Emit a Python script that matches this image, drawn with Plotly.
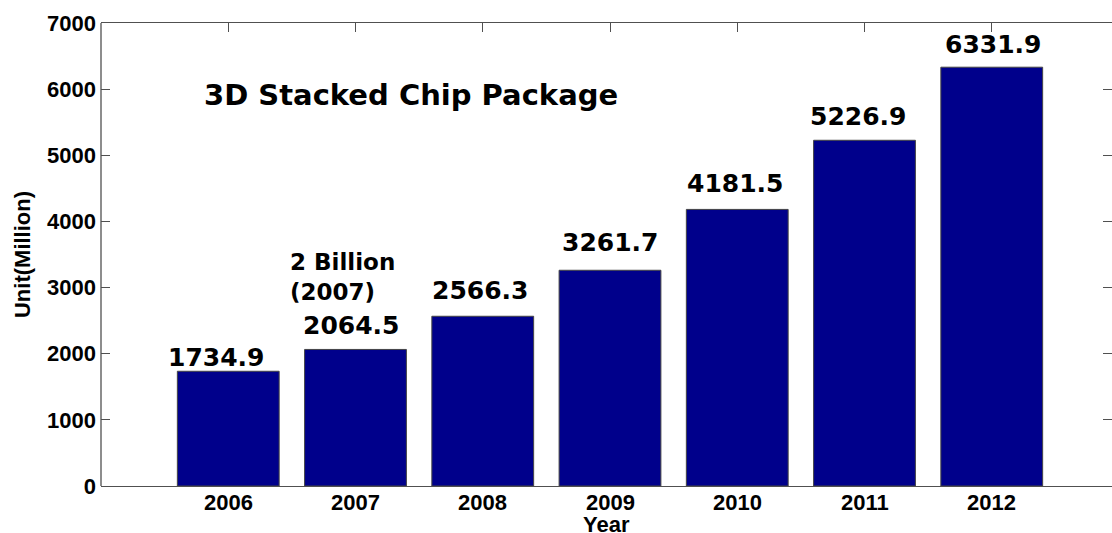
import plotly.graph_objects as go

# Yearly shipments of 3D stacked chip packages (million units)
years = [2006, 2007, 2008, 2009, 2010, 2011, 2012]
units = [1734.9, 2064.5, 2566.3, 3261.7, 4181.5, 5226.9, 6331.9]
value_labels = ["1734.9", "2064.5", "2566.3", "3261.7", "4181.5", "5226.9", "6331.9"]
year_labels = ["2006", "2007", "2008", "2009", "2010", "2011", "2012"]
y_ticks = [0, 1000, 2000, 3000, 4000, 5000, 6000, 7000]

# fine placement of the value labels above each bar (dx, dy in px)
label_nudge = [(-12, 4), (-5, 14), (-3, 16), (0, 18), (-2, 16), (-7, 14), (1, 13)]

AXIS = "#505050"
BAR = "#00008B"
BOLD_TXT = dict(family="DejaVu Sans", color="black", weight="bold")
AXIS_TXT = dict(family="Liberation Sans", color="black", weight="bold")

fig = go.Figure()
fig.add_trace(go.Bar(
    x=years, y=units, width=0.8,
    marker=dict(color=BAR, line=dict(color="#444444", width=1)),
    hoverinfo="x+y",
))

for yr, val, txt, (dx, dy) in zip(years, units, value_labels, label_nudge):
    fig.add_annotation(
        x=yr, y=val, text=txt, showarrow=False,
        xanchor="center", yanchor="bottom", xshift=dx, yshift=dy - 7,
        font=dict(size=25, **BOLD_TXT),
    )

# year labels under the axis, set a little closer than the default tick labels
for yr, txt in zip(years, year_labels):
    fig.add_annotation(
        x=yr, y=0, xref="x", yref="paper", text=txt, showarrow=False,
        xanchor="center", yanchor="middle", yshift=-16,
        font=dict(size=22, **AXIS_TXT),
    )

fig.add_annotation(
    x=0.5, y=0, xref="paper", yref="paper", text="Year",
    showarrow=False, xanchor="center", yanchor="middle", yshift=-38,
    font=dict(size=22, **AXIS_TXT),
)

fig.add_annotation(
    x=2005.79, y=6000, xref="x", yref="y", text="3D Stacked Chip Package",
    showarrow=False, xanchor="left", yanchor="middle", yshift=-6,
    font=dict(size=29, **BOLD_TXT),
)
fig.add_annotation(
    x=2006.47, y=3330, xref="x", yref="y", text="2 Billion<br>(2007)",
    showarrow=False, xanchor="left", yanchor="middle", align="left", yshift=-11,
    font=dict(size=23, **BOLD_TXT),
)

# left spine of the box
fig.add_shape(type="line", xref="x domain", yref="y domain", x0=0, x1=0, y0=0, y1=1,
              line=dict(color=AXIS, width=1.3), layer="below")

fig.update_layout(
    width=1112, height=533,
    margin=dict(l=101, r=0, t=23, b=47),
    plot_bgcolor="white", paper_bgcolor="white",
    showlegend=False, bargap=0.2,
    xaxis=dict(
        range=[2005, 2012.945], tickmode="array", tickvals=years,
        showticklabels=False,
        ticks="inside", ticklen=9, tickcolor=AXIS, tickwidth=1,
        showline=True, linecolor=AXIS, linewidth=1.3, mirror="ticks",
        showgrid=False, zeroline=False, layer="below traces",
    ),
    yaxis=dict(
        range=[0, 7000], tickmode="array", tickvals=y_ticks,
        ticks="inside", ticklen=9, tickcolor=AXIS, tickwidth=1,
        showline=False, mirror="ticks",
        showgrid=False, zeroline=False, layer="below traces",
        ticklabelstandoff=4,
        tickfont=dict(size=22, **AXIS_TXT),
        title=dict(text="Unit(Million)", standoff=10,
                   font=dict(size=22, **AXIS_TXT)),
    ),
)

fig.write_html("out.html")
